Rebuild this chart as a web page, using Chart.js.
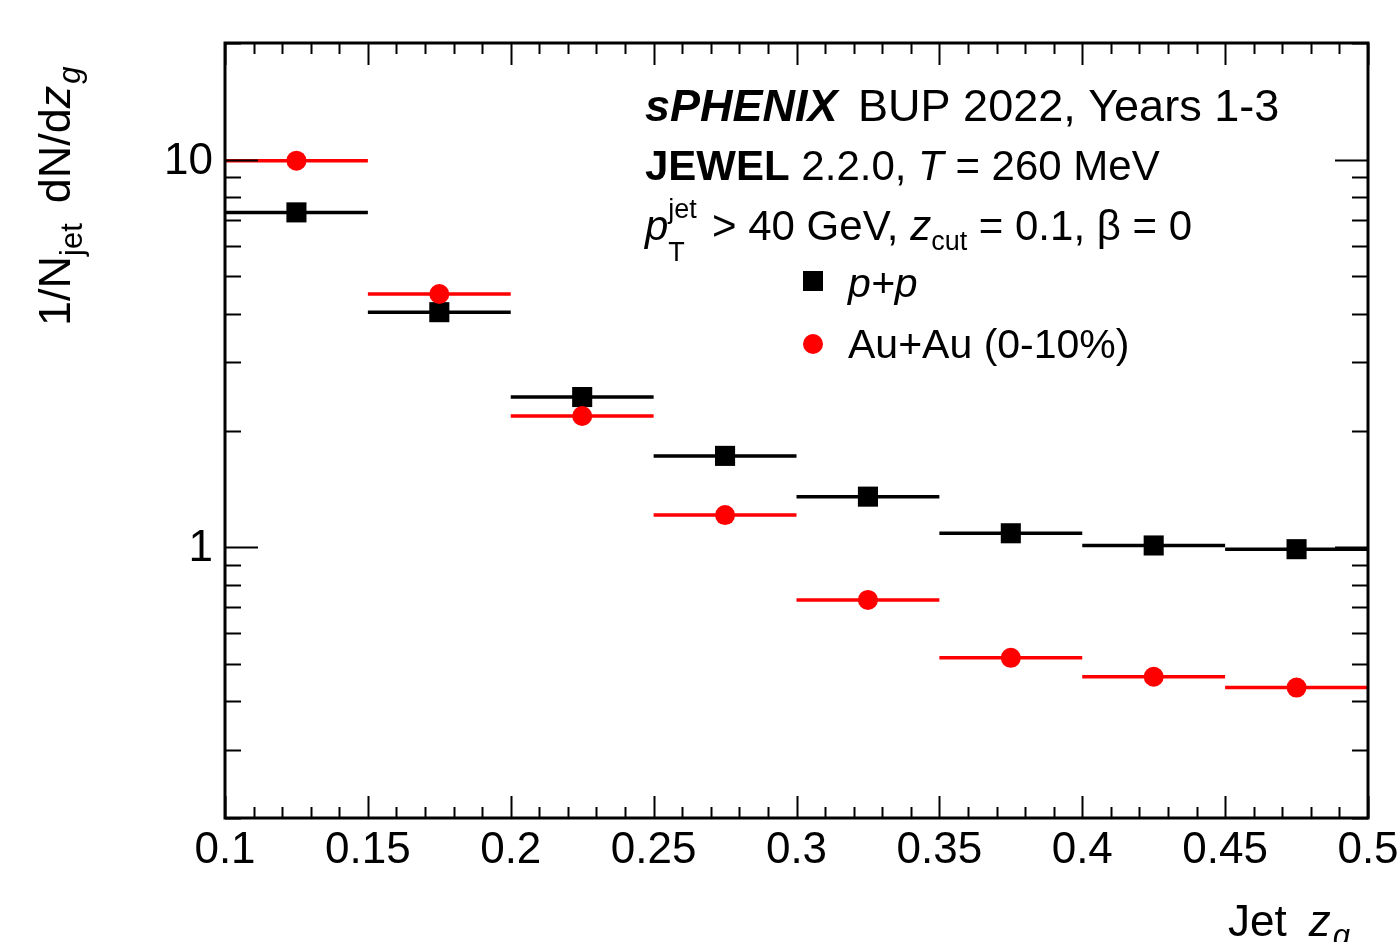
<!DOCTYPE html>
<html>
<head>
<meta charset="utf-8">
<script src="https://cdn.jsdelivr.net/npm/chart.js@4"></script>
<style>
    body { margin: 0; background: white; }
    #wrap { width: 1400px; height: 942px; position: relative; }
</style>
</head>
<body>
<div id="wrap"><canvas id="zgChart"></canvas></div>
<script>
// bin centres and edges of jet z_g
const binCenters = [0.125, 0.175, 0.225, 0.275, 0.325, 0.375, 0.425, 0.475];
const binHalfWidth = 0.025;

// 1/N_jet dN/dz_g
const ppValues = [7.31, 4.04, 2.44, 1.72, 1.35, 1.086, 1.01, 0.988];
const auauValues = [9.94, 4.50, 2.18, 1.21, 0.731, 0.518, 0.463, 0.434];

// axis tick labels
const xTickLabels = ['0.1', '0.15', '0.2', '0.25', '0.3', '0.35', '0.4', '0.45', '0.5'];
const yTickLabels = ['1', '10'];

const FONT = '"Liberation Sans", Arial, Helvetica, sans-serif';

function binSegments(values) {
    const out = [];
    values.forEach((v, i) => {
        out.push({ x: binCenters[i] - binHalfWidth, y: v });
        out.push({ x: binCenters[i] + binHalfWidth, y: v });
        out.push({ x: binCenters[i] + binHalfWidth, y: null });
    });
    return out;
}

function points(values) {
    return values.map((v, i) => ({ x: binCenters[i], y: v }));
}

// draws a run of text pieces, each with its own font and offset
function drawRich(ctx, x, y, parts) {
    let cx = x;
    parts.forEach(p => {
        ctx.font = (p.style || '') + ' ' + p.size + 'px ' + FONT;
        ctx.fillText(p.t, cx, y + (p.dy || 0));
        if (!p.noAdvance) {
            cx += ctx.measureText(p.t).width + (p.gap || 0);
        }
    });
    return cx;
}

const framePlugin = {
    id: 'frame',
    afterDatasetsDraw(chart) {
        const ctx = chart.ctx;
        const a = chart.chartArea;
        const xs = chart.scales.x;
        const ys = chart.scales.y;
        ctx.save();
        ctx.strokeStyle = 'black';
        ctx.fillStyle = 'black';

        // x ticks, inside, bottom and top
        ctx.lineWidth = 2;
        ctx.beginPath();
        for (let i = 0; i <= 40; i++) {
            const v = 0.1 + i * 0.01;
            const px = Math.round(xs.getPixelForValue(v)) + 0.5;
            const len = (i % 5 === 0) ? 22 : 11;
            ctx.moveTo(px, a.bottom);
            ctx.lineTo(px, a.bottom - len);
            ctx.moveTo(px, a.top);
            ctx.lineTo(px, a.top + len);
        }
        // y ticks, inside, left and right
        const yTicks = [0.2, 0.3, 0.4, 0.5, 0.6, 0.7, 0.8, 0.9, 1, 2, 3, 4, 5, 6, 7, 8, 9, 10, 20];
        yTicks.forEach(v => {
            const py = Math.round(ys.getPixelForValue(v)) + 0.5;
            const len = (v === 1 || v === 10) ? 33 : 16;
            ctx.moveTo(a.left, py);
            ctx.lineTo(a.left + len, py);
            ctx.moveTo(a.right, py);
            ctx.lineTo(a.right - len, py);
        });
        ctx.stroke();

        // frame
        ctx.lineWidth = 3;
        ctx.strokeRect(a.left, a.top, a.right - a.left, a.bottom - a.top);

        // x tick labels
        ctx.font = '44px ' + FONT;
        ctx.textAlign = 'center';
        ctx.textBaseline = 'alphabetic';
        xTickLabels.forEach(lbl => {
            const px = xs.getPixelForValue(parseFloat(lbl));
            ctx.fillText(lbl, px, a.bottom + 45);
        });

        // y tick labels
        ctx.textAlign = 'right';
        ctx.textBaseline = 'middle';
        yTickLabels.forEach(lbl => {
            const py = ys.getPixelForValue(parseFloat(lbl));
            ctx.fillText(lbl, a.left - 12, py + 2);
        });

        // axis titles
        ctx.textAlign = 'left';
        ctx.textBaseline = 'alphabetic';
        drawRich(ctx, 1228, 936, [
            { t: 'Jet', size: 44, gap: 22 },
            { t: 'z', size: 44, style: 'italic', gap: 2 },
            { t: 'g', size: 31, style: 'italic', dy: 10 }
        ]);

        ctx.save();
        ctx.translate(70, 326);
        ctx.rotate(-Math.PI / 2);
        drawRich(ctx, 0, 0, [
            { t: '1/N', size: 45 },
            { t: 'jet', size: 31, dy: 12, gap: 20 },
            { t: 'dN/d', size: 45 },
            { t: 'z', size: 45, style: 'italic', gap: 2 },
            { t: 'g', size: 31, style: 'italic', dy: 10 }
        ]);
        ctx.restore();

        // annotation text
        drawRich(ctx, 645, 121, [
            { t: 'sPHENIX', size: 45, style: 'italic bold', gap: 8 },
            { t: ' BUP 2022, Years 1-3', size: 45 }
        ]);
        drawRich(ctx, 645, 180, [
            { t: 'JEWEL', size: 42, style: 'bold' },
            { t: ' 2.2.0, ', size: 42 },
            { t: 'T', size: 42, style: 'italic' },
            { t: ' = 260 MeV', size: 42 }
        ]);
        drawRich(ctx, 645, 240, [
            { t: 'p', size: 42, style: 'italic' },
            { t: 'jet', size: 27, dy: -22, noAdvance: true },
            { t: 'T', size: 27, dy: 21, noAdvance: true },
            { t: '', size: 27, gap: 32 },
            { t: ' > 40 GeV, ', size: 42 },
            { t: 'z', size: 42, style: 'italic' },
            { t: 'cut', size: 27, dy: 10 },
            { t: ' = 0.1, \u03b2 = 0', size: 42 }
        ]);

        // legend
        ctx.fillStyle = 'black';
        ctx.fillRect(803, 271, 20, 20);
        ctx.font = 'italic 41px ' + FONT;
        ctx.fillText('p+p', 848, 297);
        ctx.fillStyle = 'red';
        ctx.beginPath();
        ctx.arc(813, 344, 10, 0, Math.PI * 2);
        ctx.fill();
        ctx.fillStyle = 'black';
        ctx.font = '41px ' + FONT;
        ctx.fillText('Au+Au (0-10%)', 848, 358);

        ctx.restore();
    }
};

const ctx = document.getElementById('zgChart');

new Chart(ctx, {
    type: 'line',
    data: {
        datasets: [
            {
                label: 'p+p bins',
                data: binSegments(ppValues),
                borderColor: 'black',
                borderWidth: 3.5,
                pointRadius: 0,
                spanGaps: false,
                order: 4
            },
            {
                label: 'Au+Au bins',
                data: binSegments(auauValues),
                borderColor: 'red',
                borderWidth: 3.5,
                pointRadius: 0,
                spanGaps: false,
                order: 3
            },
            {
                type: 'scatter',
                label: 'p+p',
                data: points(ppValues),
                pointStyle: 'rect',
                pointRadius: 14.2,
                backgroundColor: 'black',
                borderWidth: 0,
                order: 2
            },
            {
                type: 'scatter',
                label: 'Au+Au (0-10%)',
                data: points(auauValues),
                pointStyle: 'circle',
                pointRadius: 10,
                backgroundColor: 'red',
                borderWidth: 0,
                order: 1
            }
        ]
    },
    options: {
        responsive: true,
        maintainAspectRatio: false,
        animation: false,
        layout: {
            padding: { left: 225, right: 32, top: 43, bottom: 124 }
        },
        plugins: {
            legend: { display: false },
            tooltip: { enabled: false }
        },
        scales: {
            x: { type: 'linear', min: 0.1, max: 0.5, display: false },
            y: { type: 'logarithmic', min: 0.2, max: 20, display: false }
        }
    },
    plugins: [framePlugin]
});
</script>
</body>
</html>
